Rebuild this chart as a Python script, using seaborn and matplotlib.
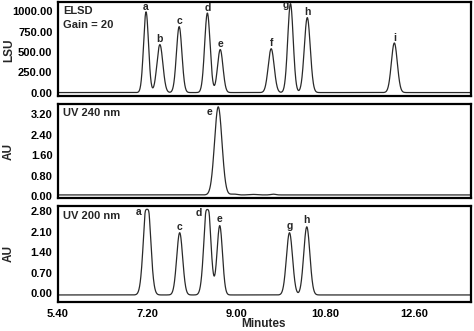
import numpy as np
import pandas as pd
import matplotlib
matplotlib.use("Agg")
import matplotlib.pyplot as plt
import seaborn as sns
from matplotlib.ticker import MultipleLocator, FormatStrFormatter

sns.set_theme(style="white")
plt.rcParams['font.family'] = ['Liberation Sans', 'DejaVu Sans']
plt.rcParams['font.weight'] = 'bold'

# ELSD peaks
elsd_labels = ['a', 'b', 'c', 'd', 'e', 'f', 'g', 'h', 'i']
elsd_centers = [7.18, 7.46, 7.85, 8.42, 8.68, 9.71, 10.10, 10.44, 12.20]
elsd_heights = [985, 585, 805, 970, 525, 535, 1085, 915, 605]
elsd_widths = [0.050, 0.060, 0.055, 0.055, 0.055, 0.060, 0.055, 0.060, 0.060]
elsd_base = 5.0

# UV 240 peaks (main peak plus small baseline bumps)
uv240_labels = ['e']
uv240_centers = [8.64, 8.95, 9.35, 9.75]
uv240_heights = [3.45, 0.035, 0.02, 0.03]
uv240_widths = [0.075, 0.06, 0.08, 0.05]
uv240_base = 0.04

# UV 200 peaks (a and d are detector-saturated, rounded flat tops)
uv200_labels = ['a', 'c', 'd', 'e', 'g', 'h']
uv200_centers = [7.20, 7.86, 8.42, 8.67, 10.08, 10.43]
uv200_heights = [3.40, 2.12, 3.30, 2.36, 2.12, 2.32]
uv200_widths = [0.068, 0.060, 0.065, 0.055, 0.062, 0.062]
uv200_base = -0.06
uv200_knee = 2.45
uv200_limit = 2.87

x_ticks = [5.40, 7.20, 9.00, 10.80, 12.60]
x = np.linspace(5.40, 13.75, 2000)


def trace(centers, heights, widths, base):
    y = np.full_like(x, base)
    for c, h, w in zip(centers, heights, widths):
        y = y + h * np.exp(-0.5 * ((x - c) / w) ** 2)
    return y


def soft_saturate(y, knee, limit):
    span = limit - knee
    return np.where(y > knee, knee + span * np.tanh((y - knee) / span), y)


y_elsd = trace(elsd_centers, elsd_heights, elsd_widths, elsd_base)
y_240 = trace(uv240_centers, uv240_heights, uv240_widths, uv240_base)
y_200 = soft_saturate(trace(uv200_centers, uv200_heights, uv200_widths, uv200_base),
                      uv200_knee, uv200_limit)

df = pd.DataFrame({'Minutes': x, 'ELSD': y_elsd, 'UV240': y_240, 'UV200': y_200})

fig = plt.figure(figsize=(4.74, 3.31), dpi=100)
W, H = 474, 331
left = 58 / W
width = (471 - 58) / W
ax1 = fig.add_axes([left, 1 - 96 / H, width, 94 / H])
ax2 = fig.add_axes([left, 1 - 198 / H, width, 94 / H])
ax3 = fig.add_axes([left, 1 - 302 / H, width, 96 / H])

FS = 8
specs = [
    (ax1, 'ELSD', (-37, 1110), 250),
    (ax2, 'UV240', (-0.08, 3.6), 0.8),
    (ax3, 'UV200', (-0.3, 2.97), 0.7),
]

for ax, col, ylim, major in specs:
    sns.lineplot(data=df, x='Minutes', y=col, ax=ax, color='#2a2a2a', lw=0.9)
    ax.set_xlim(5.40, 13.75)
    ax.set_ylim(*ylim)
    ax.set_yticks(np.arange(0, ylim[1], major))
    ax.yaxis.set_major_formatter(FormatStrFormatter('%.2f'))
    ax.set_ylabel('')
    for s in ax.spines.values():
        s.set_linewidth(1.6)
        s.set_color('black')
    ax.tick_params(axis='y', direction='out', length=3, width=0.8, labelsize=FS, pad=1, colors='black')
    ax.set_xticks(x_ticks)
    ax.xaxis.set_minor_locator(MultipleLocator(0.9))
    ax.tick_params(axis='x', which='both', direction='out', length=3, width=0.8, labelsize=FS, pad=2, colors='black')
    ax.grid(False)
    for t in ax.get_yticklabels():
        t.set_fontweight('bold')

for ax in (ax1, ax2):
    ax.set_xlabel('')
    ax.tick_params(axis='x', which='both', labelbottom=False, length=0)

ax3.set_xticklabels(['%.2f' % t for t in x_ticks], fontweight='bold')
ax3.set_xlabel('')

# Axis labels
fig.text(263 / W, 1 / H, 'Minutes', ha='center', va='bottom', fontsize=8.5, fontweight='bold')
fig.text(9 / W, 1 - 50 / H, 'LSU', ha='center', va='center', rotation=90, fontsize=8.5, fontweight='bold')
fig.text(9 / W, 1 - 151 / H, 'AU', ha='center', va='center', rotation=90, fontsize=8.5, fontweight='bold')
fig.text(9 / W, 1 - 254 / H, 'AU', ha='center', va='center', rotation=90, fontsize=8.5, fontweight='bold')

# Panel titles
ax1.text(0.013, 0.9, 'ELSD', transform=ax1.transAxes, fontsize=FS, fontweight='bold', va='center')
ax1.text(0.013, 0.76, 'Gain = 20', transform=ax1.transAxes, fontsize=FS, fontweight='bold', va='center')
ax2.text(0.013, 0.9, 'UV 240 nm', transform=ax2.transAxes, fontsize=FS, fontweight='bold', va='center')
ax3.text(0.013, 0.9, 'UV 200 nm', transform=ax3.transAxes, fontsize=FS, fontweight='bold', va='center')

# Peak labels
for lab, c, h in zip(elsd_labels, elsd_centers, elsd_heights):
    if lab == 'g':
        ax1.text(c - 0.1, h - 10, lab, ha='center', va='center', fontsize=7.5, fontweight='bold')
    else:
        ax1.text(c, h + elsd_base + 65, lab, ha='center', va='center', fontsize=7.5, fontweight='bold')
ax2.text(uv240_centers[0] - 0.17, 3.3, 'e', ha='center', va='center', fontsize=7.5, fontweight='bold')
uv200_lab_pos = [(7.02, 2.77), (7.85, 2.25), (8.24, 2.73), (8.66, 2.53), (10.08, 2.28), (10.43, 2.49)]
for lab, (px, py) in zip(uv200_labels, uv200_lab_pos):
    ax3.text(px, py, lab, ha='center', va='center', fontsize=7.5, fontweight='bold')

fig.savefig('out.png', dpi=100)
